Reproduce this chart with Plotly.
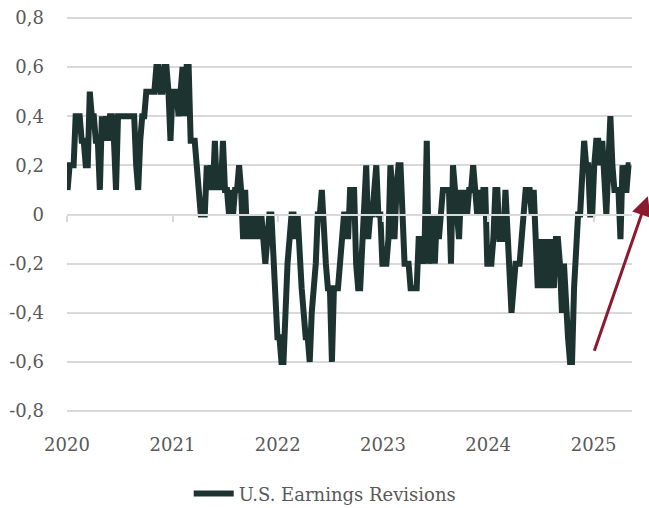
import pandas as pd
import plotly.graph_objects as go

# Weekly U.S. earnings revisions
start_date = "2020-01-03"
revisions = [
    0.1, 0.2, 0.2, 0.2, 0.4, 0.4, 0.4, 0.3, 0.3, 0.2,
    0.2, 0.5, 0.4, 0.4, 0.3, 0.3, 0.1, 0.4, 0.3, 0.4,
    0.3, 0.4, 0.4, 0.3, 0.1, 0.4, 0.4, 0.4, 0.4, 0.4,
    0.4, 0.4, 0.4, 0.4, 0.2, 0.1, 0.3, 0.4, 0.4, 0.5,
    0.5, 0.5, 0.5, 0.5, 0.6, 0.6, 0.5, 0.5, 0.6, 0.6,
    0.5, 0.3, 0.5, 0.5, 0.5, 0.4, 0.5, 0.6, 0.4, 0.6,
    0.6, 0.3, 0.3, 0.3, 0.2, 0.1, 0.0, 0.0, 0.0, 0.2,
    0.1, 0.2, 0.1, 0.3, 0.1, 0.2, 0.1, 0.3, 0.1, 0.1,
    0.0, 0.1, 0.0, 0.1, 0.1, 0.2, 0.1, -0.1, 0.1, -0.1,
    0.0, -0.1, 0.0, -0.1, 0.0, -0.1, 0.0, -0.1, -0.2, -0.1,
    0.0, 0.0, -0.2, -0.4, -0.5, -0.5, -0.6, -0.6, -0.3, -0.2,
    -0.1, 0.0, 0.0, -0.1, 0.0, -0.2, -0.3, -0.4, -0.5, -0.5,
    -0.6, -0.4, -0.3, -0.2, 0.0, 0.0, 0.1, -0.1, -0.2, -0.3,
    -0.3, -0.6, -0.3, -0.3, -0.3, -0.2, -0.1, 0.0, 0.0, -0.1,
    0.1, 0.1, 0.1, -0.2, -0.3, -0.3, -0.1, 0.1, 0.2, -0.1,
    0.0, 0.0, 0.1, 0.2, 0.0, 0.0, -0.2, -0.2, -0.2, -0.1,
    0.2, 0.1, -0.1, 0.1, 0.2, 0.2, 0.0, -0.2, -0.2, -0.2,
    -0.3, -0.3, -0.3, -0.3, -0.1, -0.1, -0.2, -0.1, 0.3, -0.2,
    -0.1, 0.0, -0.2, 0.0, -0.1, 0.0, 0.1, 0.1, 0.1, 0.1,
    -0.2, 0.2, 0.1, 0.0, -0.1, 0.1, 0.0, 0.1, 0.0, 0.1,
    0.1, 0.2, 0.1, 0.0, 0.1, 0.0, 0.1, 0.1, -0.2, -0.2,
    -0.2, -0.1, 0.1, 0.1, -0.1, -0.1, -0.1, 0.1, -0.1, -0.3,
    -0.4, -0.3, -0.2, -0.2, -0.2, -0.1, 0.0, 0.1, 0.1, 0.1,
    0.0, 0.1, -0.1, -0.3, -0.1, -0.3, -0.1, -0.3, -0.1, -0.3,
    -0.1, -0.3, -0.1, -0.1, -0.2, -0.4, -0.2, -0.4, -0.5, -0.6,
    -0.6, -0.3, -0.1, 0.0, 0.0, 0.2, 0.3, 0.2, 0.2, 0.0,
    0.0, 0.2, 0.3, 0.3, 0.2, 0.3, 0.1, 0.0, 0.2, 0.4,
    0.2, 0.1, 0.1, 0.1, -0.1, 0.2, 0.1, 0.1, 0.2, 0.2,
]
dates = pd.date_range(start_date, periods=len(revisions), freq="7D")

series_name = "U.S. Earnings Revisions"
y_tick_vals = [0.8, 0.6, 0.4, 0.2, 0, -0.2, -0.4, -0.6, -0.8]
y_tick_text = ["0,8", "0,6", "0,4", "0,2", "0", "-0,2", "-0,4", "-0,6", "-0,8"]
year_ticks = ["2020-01-01", "2021-01-01", "2022-01-01", "2023-01-01", "2024-01-01", "2025-01-01"]
year_labels = ["2020", "2021", "2022", "2023", "2024", "2025"]
x_range = ["2020-01-01", "2025-05-14"]
y_range = [-0.812, 0.812]

FONT = "DejaVu Serif"
TXT = "#595959"
GRID = "#D9D9D9"
LINE = "#1C3330"
ARROW = "#8B1A2E"

fig = go.Figure()
fig.add_trace(go.Scatter(
    x=dates, y=revisions, mode="lines", name=series_name,
    line=dict(color=LINE, width=6),
    showlegend=True,
))
# invisible helper trace for the label axis
fig.add_trace(go.Scatter(
    x=[dates[0]], y=[revisions[0]], xaxis="x2", mode="lines",
    line=dict(width=0), showlegend=False, hoverinfo="skip",
))

fig.update_layout(
    width=649, height=508,
    margin=dict(l=67, r=17, t=15, b=94, autoexpand=False),
    paper_bgcolor="white", plot_bgcolor="white",
    font=dict(family=FONT, size=18, color=TXT),
    xaxis=dict(
        type="date", range=x_range,
        anchor="free", position=0.5,
        showgrid=False, zeroline=False,
        showline=True, linecolor=GRID, linewidth=2,
        ticks="outside", ticklen=6, tickwidth=1.5, tickcolor=GRID,
        tickvals=year_ticks, showticklabels=False,
        automargin=False,
    ),
    xaxis2=dict(
        type="date", range=x_range, overlaying="x", anchor="y", side="bottom",
        showgrid=False, zeroline=False, showline=False, ticks="",
        tickvals=year_ticks, ticktext=year_labels,
        tickfont=dict(family=FONT, size=18, color=TXT),
        ticklabelstandoff=18, automargin=False, ticklabeloverflow="allow",
    ),
    yaxis=dict(
        range=y_range,
        tickvals=y_tick_vals, ticktext=y_tick_text,
        showgrid=True, gridcolor=GRID, gridwidth=2,
        zeroline=False, showline=False, ticks="",
        tickfont=dict(family=FONT, size=18, color=TXT),
        ticklabelstandoff=22, automargin=False, ticklabeloverflow="allow",
    ),
    legend=dict(
        orientation="h", x=0.457, xanchor="center", y=-0.2, yanchor="middle",
        font=dict(family=FONT, size=18, color=TXT),
        itemwidth=40,
    ),
    annotations=[dict(
        xref="paper", yref="paper", x=1.028, y=0.546,
        ax=-54, ay=156, axref="pixel", ayref="pixel",
        showarrow=True, arrowhead=2, arrowsize=1.3, arrowwidth=3,
        arrowcolor=ARROW, text="",
    )],
)

# remove the default 8px page margin so the 649x508 figure fills the window exactly
fig.write_html(
    "out.html",
    config={"displayModeBar": False},
    post_script="document.body.style.margin='0';",
)
